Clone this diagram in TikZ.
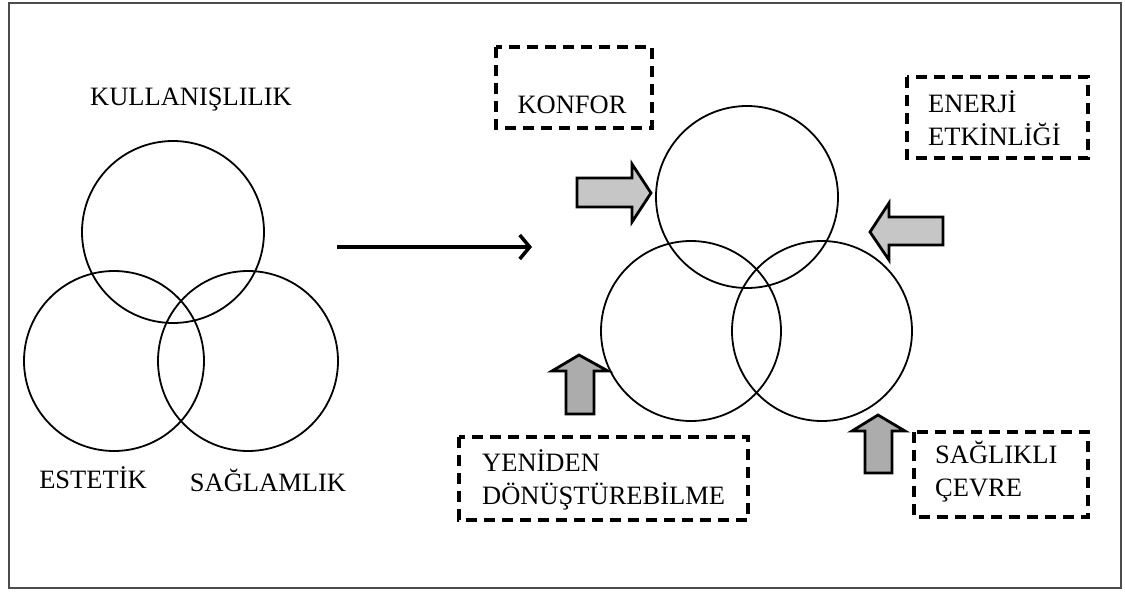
\documentclass[tikz,border=0pt]{standalone}
\usepackage{fontspec}
\setmainfont{Liberation Serif}
\usetikzlibrary{arrows.meta}
\tikzset{
  ring/.style={circle, draw, line width=1.8pt, minimum size=#1, inner sep=0pt},
  label/.style={font=\fontsize{26.5}{33}\selectfont, inner sep=0pt, align=left},
  dashbox/.style={draw, line width=3.2pt, dash pattern=on 11pt off 7pt},
  lightblock/.style={draw, line width=2.8pt, fill=gray!45, line join=miter},
  darkblock/.style={draw, line width=2.8pt, fill=gray!65, line join=miter},
  flow/.style={line width=3.5pt, -{Straight Barb[length=10pt,width=24pt,line width=3.5pt]}}
}
\begin{document}
\begin{tikzpicture}[x=1pt,y=-1pt]
\useasboundingbox (0,0) rectangle (1125,592);
\draw[line width=1.6pt, gray!60!black] (9,3) rectangle (1121,588);

% classic triad
\node[ring=182pt] (use) at (173,232) {};
\node[ring=180pt] (aes) at (114,361) {};
\node[ring=180pt] (str) at (248,361) {};
\node[label, anchor=center] (tuse) at (191,100) {KULLANIŞLILIK};
\node[label, anchor=center] (taes) at (93,478) {ESTETİK};
\node[label, anchor=center] (tstr) at (268,480) {SAĞLAMLIK};

% transition arrow
\coordinate (a0) at (337,247);
\coordinate (a1) at (532,247);
\draw[flow] (a0) -- (a1);

% extended triad
\node[ring=182pt] (top) at (747,197) {};
\node[ring=180pt] (lft) at (691,331) {};
\node[ring=180pt] (rgt) at (822,331) {};

% dashed label boxes
\draw[dashbox] (496,47) rectangle (652,128);
\node[label, anchor=center] (konfor) at (572,105) {KONFOR};

\draw[dashbox] (907,77) rectangle (1088,158);
\node[label, anchor=west] (enerji) at (928,118) {ENERJİ\\ETKİNLİĞİ};

\draw[dashbox] (459,437) rectangle (748,520);
\node[label, anchor=west] (yeni) at (482,480) {YENİDEN\\DÖNÜŞTÜREBİLME};

\draw[dashbox] (914,432) rectangle (1088,517);
\node[label, anchor=west] (saglik) at (935,472) {SAĞLIKLI\\ÇEVRE};

% block arrows
\draw[lightblock] (577,178) -- (632,178) -- (632,164) -- (651,193) -- (632,222) -- (632,207) -- (577,207) -- cycle;
\draw[lightblock] (943,217) -- (889,217) -- (889,203) -- (870,232) -- (889,260) -- (889,245) -- (943,245) -- cycle;
\draw[darkblock] (566,414) -- (566,371) -- (552,371) -- (579,355) -- (608,371) -- (594,371) -- (594,414) -- cycle;
\draw[darkblock] (865,473) -- (865,431) -- (852,431) -- (878,415) -- (905,431) -- (892,431) -- (892,473) -- cycle;
\end{tikzpicture}
\end{document}
